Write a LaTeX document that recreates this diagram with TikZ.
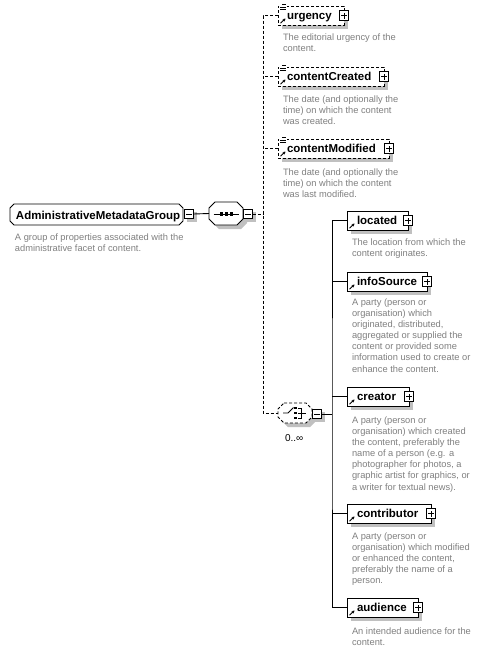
\documentclass[tikz,border=0pt]{standalone}
\usepackage{fontspec}
\setmainfont{Liberation Sans}
\usetikzlibrary{calc,shadows,arrows.meta}
\definecolor{descgray}{RGB}{128,128,128}
\definecolor{shadowgray}{RGB}{192,192,192}
\newcommand\octpath[5]{(#1+#5,#2) -- (#3-#5,#2) -- (#3,#2+#5) -- (#3,#4-#5) -- (#3-#5,#4) -- (#1+#5,#4) -- (#1,#4-#5) -- (#1,#2+#5) -- cycle}
\newcommand\refarrow[1]{\draw[line width=0.9pt,-{Stealth[length=2.8pt,width=3pt]}] ($(#1.south west)+(2.5,-1.8)$) -- ($(#1.south west)+(7.5,-6.5)$);}
\newcommand\listicon[1]{\fill[white] ($(#1.north west)+(1.5,-2.5)$) rectangle ($(#1.north west)+(8.5,5)$);
  \draw[line width=0.7pt] ($(#1.north west)+(4,-1.2)$) -- ++(4,0) ($(#1.north west)+(2,1.3)$) -- ++(6,0) ($(#1.north west)+(2,3.8)$) -- ++(6,0);}
\begin{document}
\begin{tikzpicture}[x=1pt,y=-1pt,
  every node/.style={inner sep=0pt, outer sep=0pt},
  elbox/.style={draw=black, fill=white, line width=0.9pt, minimum height=19pt, anchor=north west,
     drop shadow={shadow xshift=4pt, shadow yshift=-4pt, fill=shadowgray, opacity=1}},
  optbox/.style={elbox, dash pattern=on 3pt off 2pt},
  title/.style={font=\fontsize{11.5}{13}\selectfont\bfseries, anchor=base west},
  desc/.style={font=\fontsize{9.3}{11.05}\selectfont, text=descgray, align=left, anchor=north west},
  pmbox/.style={draw=black, fill=white, line width=0.9pt, minimum size=9.2pt},
  shpm/.style={drop shadow={shadow xshift=3pt, shadow yshift=-3pt, fill=shadowgray, opacity=1}},
  plusbox/.style={pmbox, path picture={\draw[line width=0.9pt]
     ([xshift=-3pt]path picture bounding box.center) -- ([xshift=3pt]path picture bounding box.center)
     ([yshift=-3pt]path picture bounding box.center) -- ([yshift=3pt]path picture bounding box.center);}},
  minusbox/.style={pmbox, path picture={\draw[line width=0.9pt]
     ([xshift=-3pt]path picture bounding box.center) -- ([xshift=3pt]path picture bounding box.center);}},
  conn/.style={line width=0.9pt},
  dconn/.style={line width=0.9pt, dash pattern=on 3pt off 2pt},
  comp/.style={minimum width=34pt, minimum height=22pt},
]
\useasboundingbox (0,0) rectangle (482,651);
\fill[white] (0,0) rectangle (482,651);

% ---------- main group ----------
\node[minimum width=173pt, minimum height=21pt, anchor=north west] (main) at (10,204) {};
\draw[line width=0.9pt, fill=white] \octpath{10}{204}{183}{225}{4};
\node[title] (maintitle) at (16,219) {AdministrativeMetadataGroup};
\node[minusbox, shpm] (mainminus) at (189,214) {};
\node[desc] (maindesc) at (15,233.5) {A group of properties associated with the\\administrative facet of content.};

% ---------- sequence compositor ----------
\node[comp] (seq) at (226,213.5) {};
\fill[shadowgray] \octpath{213}{206}{247}{229}{6};
\draw[line width=0.9pt, fill=white] \octpath{209}{202}{243}{225}{6};
\draw[line width=0.9pt] (213.5,214) -- (238.5,214);
\foreach \dx in {221.5,226.5,231.5} \fill (\dx-1.6,212.4) rectangle (\dx+1.6,215.6);
\node[minusbox, shpm] (seqminus) at (248,214) {};
\draw[conn] (mainminus.east) -- (seq.west);

% ---------- optional elements ----------
\coordinate (bus) at (263,214);
\node[optbox, minimum width=66pt] (urgency) at (278,6) {};
\node[title] (urgencyt) at (287,19.5) {urgency};
\node[plusbox] (urgencyplus) at (urgency.east) {};
\listicon{urgency}\refarrow{urgency}
\node[desc] (urgencyd) at (283,33.5) {The editorial urgency of the\\content.};

\node[optbox, minimum width=106pt] (created) at (278,67) {};
\node[title] (createdt) at (287,80.5) {contentCreated};
\node[plusbox] (createdplus) at (created.east) {};
\listicon{created}\refarrow{created}
\node[desc] (createdd) at (283,95.5) {The date (and optionally the\\time) on which the content\\was created.};

\node[optbox, minimum width=111pt] (modified) at (278,139) {};
\node[title] (modifiedt) at (287,152.5) {contentModified};
\node[plusbox] (modifiedplus) at (modified.east) {};
\listicon{modified}\refarrow{modified}
\node[desc] (modifiedd) at (283,168.5) {The date (and optionally the\\time) on which the content\\was last modified.};

% ---------- choice compositor ----------
\node[comp, minimum height=20pt] (choice) at (295,413) {};
\fill[shadowgray] \octpath{282}{407}{316}{427}{6};
\draw[line width=0.9pt, fill=white, dash pattern=on 3pt off 2pt] \octpath{278}{403}{312}{423}{6};
\draw[line width=0.9pt] (283,413) -- (288,413) -- (293.5,407.5);
\foreach \dy in {408,413,418} \fill (294.3,\dy-1.1) rectangle (296.5,\dy+1.1);
\draw[line width=0.9pt] (298,408) -- (301,408) -- (301,418) -- (298,418) (298,413) -- (306,413);
\node[minusbox, shpm] (choiceminus) at (317,414) {};
\node[font=\fontsize{10}{11}\selectfont, anchor=base west] (card) at (285,441) {0..∞};

\draw[dconn] (seqminus.east) -- (bus);
\draw[dconn] (urgency.west) -| (bus) |- (choice.west);
\draw[dconn] (created.west) -- (created.west -| bus);
\draw[dconn] (modified.west) -- (modified.west -| bus);

% ---------- choice children ----------
\coordinate (sbus) at (332,414);
\node[elbox, minimum width=61pt] (located) at (347,211) {};
\node[title] (locatedt) at (357,224.5) {located};
\node[plusbox] (locatedplus) at (located.east) {};
\refarrow{located}
\node[desc] (locatedd) at (352,239) {The location from which the\\content originates.};

\node[elbox, minimum width=80pt] (info) at (347,272) {};
\node[title] (infot) at (357,285.5) {infoSource};
\node[plusbox] (infoplus) at (info.east) {};
\refarrow{info}
\node[desc] (infod) at (352,299) {A party (person or\\organisation) which\\originated, distributed,\\aggregated or supplied the\\content or provided some\\information used to create or\\enhance the content.};

\node[elbox, minimum width=62pt] (creator) at (347,387) {};
\node[title] (creatort) at (357,400.5) {creator};
\node[plusbox] (creatorplus) at (creator.east) {};
\refarrow{creator}
\node[desc] (creatord) at (352,417) {A party (person or\\organisation) which created\\the content, preferably the\\name of a person (e.g. a\\photographer for photos, a\\graphic artist for graphics, or\\a writer for textual news).};

\node[elbox, minimum width=84pt] (contrib) at (347,504) {};
\node[title] (contribt) at (357,517.5) {contributor};
\node[plusbox] (contribplus) at (contrib.east) {};
\refarrow{contrib}
\node[desc] (contribd) at (352,533) {A party (person or\\organisation) which modified\\or enhanced the content,\\preferably the name of a\\person.};

\node[elbox, minimum width=71pt] (audience) at (347,598) {};
\node[title] (audiencet) at (357,611.5) {audience};
\node[plusbox] (audienceplus) at (audience.east) {};
\refarrow{audience}
\node[desc] (audienced) at (352,628) {An intended audience for the\\content.};

\draw[conn] (choiceminus.east) -- (sbus);
\draw[conn] (located.west) -| (sbus) |- (audience.west);
\draw[conn] (info.west) -- (info.west -| sbus);
\draw[conn] (creator.west) -- (creator.west -| sbus);
\draw[conn] (contrib.west) -- (contrib.west -| sbus);
\end{tikzpicture}
\end{document}
